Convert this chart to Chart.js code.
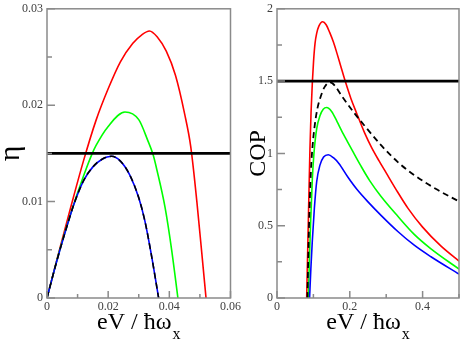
<!DOCTYPE html>
<html><head><meta charset="utf-8">
<script src="https://cdn.jsdelivr.net/npm/chart.js@4"></script>
<style>
html,body{margin:0;padding:0;background:#fff;}
#wrap{position:relative;width:463px;height:341px;overflow:hidden;background:#fff}
.box{position:absolute;top:0;height:341px}
#b1{left:0;width:245px}
#b2{left:235px;width:228px}
</style></head><body>
<div id="wrap"><div class="box" id="b1"><canvas id="c1"></canvas></div><div class="box" id="b2"><canvas id="c2"></canvas></div></div>
<script>
// ---------- Left panel (efficiency eta) ----------
const etaXRange = [0, 0.06];
const etaYRange = [0, 0.03];
const etaRef = 0.015;
const etaRedX = [0, 0.004, 0.008, 0.012, 0.016, 0.020, 0.024, 0.028, 0.031, 0.0335, 0.036, 0.039, 0.042, 0.045, 0.047, 0.049, 0.0506, 0.0520];
const etaRedY = [0, 0.0049, 0.0097, 0.0143, 0.0184, 0.0217, 0.0245, 0.0264, 0.0273, 0.0277, 0.0271, 0.0256, 0.0231, 0.0191, 0.0157, 0.0100, 0.0047, 0];
const etaGreenX = [0, 0.004, 0.008, 0.012, 0.0146, 0.016, 0.020, 0.0255, 0.030, 0.033, 0.0347, 0.036, 0.0386, 0.0408, 0.0428];
const etaGreenY = [0, 0.0048, 0.0090, 0.0127, 0.01485, 0.0158, 0.0178, 0.0193, 0.0185, 0.0163, 0.01485, 0.0132, 0.0094, 0.0049, 0];
const etaBlueX = [0, 0.003, 0.006, 0.009, 0.012, 0.015, 0.018, 0.0211, 0.024, 0.027, 0.030, 0.032, 0.034, 0.0365];
const etaBlueY = [0, 0.0036, 0.0069, 0.0099, 0.0122, 0.0136, 0.0144, 0.0147, 0.0142, 0.0128, 0.0104, 0.0080, 0.0047, 0];
const etaDashX = etaBlueX;
const etaDashY = etaBlueY;
const etaXTickLabels = ['0', '0.02', '0.04', '0.06'];
const etaYTickLabels = ['0', '0.01', '0.02', '0.03'];

// ---------- Right panel (COP) ----------
const copXRange = [0, 0.5];
const copYRange = [0, 2];
const copRef = 1.5;
const copRedX = [0.0815, 0.0865, 0.0905, 0.0935, 0.0972, 0.1005, 0.1045, 0.109, 0.115, 0.1255, 0.135, 0.145, 0.155, 0.165, 0.175, 0.188, 0.203, 0.218, 0.241, 0.26, 0.28, 0.30, 0.326, 0.36, 0.40, 0.45, 0.5];
const copRedY = [0, 0.58, 1.03, 1.28, 1.495, 1.64, 1.761, 1.83, 1.88, 1.91, 1.89, 1.835, 1.77, 1.69, 1.605, 1.495, 1.38, 1.283, 1.14, 1.04, 0.95, 0.865, 0.755, 0.62, 0.49, 0.36, 0.255];
const copGreenX = [0.086, 0.092, 0.097, 0.1015, 0.109, 0.118, 0.127, 0.1364, 0.15, 0.165, 0.177, 0.195, 0.209, 0.23, 0.255, 0.2865, 0.332, 0.377, 0.423, 0.5];
const copGreenY = [0, 0.5, 0.82, 1.0, 1.17, 1.26, 1.305, 1.317, 1.29, 1.22, 1.16, 1.075, 1.01, 0.915, 0.81, 0.70, 0.565, 0.44, 0.34, 0.2];
const copBlueX = [0.0895, 0.093, 0.097, 0.1027, 0.109, 0.118, 0.128, 0.1408, 0.155, 0.17, 0.195, 0.22, 0.25, 0.2865, 0.332, 0.377, 0.423, 0.5];
const copBlueY = [0, 0.2, 0.394, 0.622, 0.804, 0.919, 0.975, 0.991, 0.97, 0.93, 0.835, 0.75, 0.665, 0.57, 0.46, 0.365, 0.285, 0.165];
const copDashX = [0.0835, 0.088, 0.093, 0.098, 0.104, 0.111, 0.121, 0.131, 0.146, 0.16, 0.177, 0.2136, 0.241, 0.2865, 0.332, 0.377, 0.441, 0.5];
const copDashY = [0, 0.5, 0.87, 1.06, 1.2, 1.31, 1.40, 1.46, 1.492, 1.465, 1.40, 1.275, 1.19, 1.055, 0.94, 0.85, 0.748, 0.668];
const copXTickLabels = ['0', '0.2', '0.4'];
const copYTickLabels = ['0', '0.5', '1', '1.5', '2'];

const xTitleMain = 'eV / \u0127\u03c9';
const xTitleSub = 'x';

const SERIF = "'Liberation Serif','Times New Roman',serif";
const FRAME = '#8a8a8a';
const LABEL = '#404040';

function pts(xs, ys) { return xs.map((x, i) => ({x: x, y: ys[i]})); }
function isMult(v, step) { const r = v / step; return Math.abs(r - Math.round(r)) < 1e-6; }
function fmt(v) { return String(Math.round(v * 10000) / 10000); }

const framePlugin = {
  id: 'frameTicks',
  afterDraw(chart, args, o) {
    const ctx = chart.ctx, a = chart.chartArea;
    const xs = chart.scales.x, ys = chart.scales.y;
    ctx.save();
    ctx.strokeStyle = FRAME;
    ctx.lineWidth = 1.5;
    ctx.strokeRect(a.left, a.top, a.right - a.left, a.bottom - a.top);
    ctx.beginPath();
    xs.ticks.forEach(t => {
      const px = xs.getPixelForValue(t.value);
      const len = isMult(t.value, o.xMajor) ? 7 : 4;
      ctx.moveTo(px, a.bottom); ctx.lineTo(px, a.bottom - len);
    });
    ys.ticks.forEach(t => {
      const py = ys.getPixelForValue(t.value);
      const len = isMult(t.value, o.yMajor) ? 8 : 5;
      ctx.moveTo(a.left, py); ctx.lineTo(a.left + len, py);
    });
    ctx.stroke();
    // x-axis title with subscript
    const f1 = "24px " + SERIF, f2 = "16px " + SERIF;
    ctx.font = f1; const w1 = ctx.measureText(xTitleMain).width;
    ctx.font = f2; const w2 = ctx.measureText(xTitleSub).width;
    const cx = (a.left + a.right) / 2;
    const x0 = cx - (w1 + w2 + 1) / 2;
    ctx.fillStyle = '#000';
    ctx.textBaseline = 'alphabetic';
    ctx.textAlign = 'left';
    ctx.font = f1; ctx.fillText(xTitleMain, x0, 329);
    ctx.font = f2; ctx.fillText(xTitleSub, x0 + w1 + 1, 339);
    ctx.restore();
  }
};

function lineDs(xs, ys, color, width, dash, order) {
  return {
    data: pts(xs, ys), borderColor: color, borderWidth: width, borderDash: dash || [],
    pointRadius: 0, fill: false, tension: 0.4, cubicInterpolationMode: 'monotone', order: order
  };
}

function makeChart(id, cfg) {
  return new Chart(document.getElementById(id), {
    type: 'line',
    data: { datasets: cfg.datasets },
    options: {
      responsive: true, maintainAspectRatio: false, animation: false,
      layout: { padding: { top: cfg.padTop, right: cfg.padRight, left: 0, bottom: 0 } },
      plugins: { legend: { display: false }, tooltip: { enabled: false },
        frameTicks: { xMajor: cfg.xMajor, yMajor: cfg.yMajor } },
      scales: {
        x: {
          type: 'linear', min: cfg.xRange[0], max: cfg.xRange[1],
          grid: { display: false, drawTicks: false }, border: { display: false },
          afterFit: s => { s.height = 43; },
          ticks: { stepSize: cfg.xMinor, autoSkip: false, maxRotation: 0, padding: 4, color: LABEL,
            font: { family: SERIF, size: 12, lineHeight: 0.8 },
            callback: v => { const s = fmt(v); return cfg.xLabels.includes(s) ? s : ''; } }
        },
        y: {
          type: 'linear', min: cfg.yRange[0], max: cfg.yRange[1],
          grid: { display: false, drawTicks: false }, border: { display: false },
          afterFit: s => { s.width = cfg.yWidth; },
          ticks: { stepSize: cfg.yMinor, autoSkip: false, padding: 4, color: LABEL,
            font: { family: SERIF, size: 12, lineHeight: 0.8 },
            callback: v => { const s = fmt(v); return cfg.yLabels.includes(s) ? s : ''; } },
          title: { display: true, text: cfg.yTitle, color: '#000', padding: { top: cfg.titlePad, bottom: 0 },
            font: { family: SERIF, size: cfg.yTitleSize, lineHeight: cfg.yTitleLH } }
        }
      }
    },
    plugins: [framePlugin]
  });
}

makeChart('c1', {
  xRange: etaXRange, yRange: etaYRange, xMinor: 0.01, yMinor: 0.005, xMajor: 0.02, yMajor: 0.01,
  xLabels: etaXTickLabels, yLabels: etaYTickLabels, yTitle: '\u03b7', yTitleSize: 30, yTitleLH: 0.75, titlePad: 0,
  yWidth: 47, padTop: 6, padRight: 14,
  datasets: [
    lineDs(etaXRange, [etaRef, etaRef], '#000', 2.7, null, 0),
    lineDs(etaDashX, etaDashY, '#000', 1.6, [6, 4], 1),
    lineDs(etaBlueX, etaBlueY, '#0000ff', 1.6, null, 2),
    lineDs(etaGreenX, etaGreenY, '#00ff00', 1.6, null, 3),
    lineDs(etaRedX, etaRedY, '#ff0000', 1.6, null, 4)
  ]
});

makeChart('c2', {
  xRange: copXRange, yRange: copYRange, xMinor: 0.1, yMinor: 0.25, xMajor: 0.2, yMajor: 0.5,
  xLabels: copXTickLabels, yLabels: copYTickLabels, yTitle: 'COP', yTitleSize: 24, yTitleLH: 1.2, titlePad: 9,
  yWidth: 42, padTop: 5, padRight: 1,
  datasets: [
    lineDs(copXRange, [copRef, copRef], '#000', 2.7, null, 0),
    lineDs(copDashX, copDashY, '#000', 1.8, [6, 4], 1),
    lineDs(copBlueX, copBlueY, '#0000ff', 1.6, null, 2),
    lineDs(copGreenX, copGreenY, '#00ff00', 1.6, null, 3),
    lineDs(copRedX, copRedY, '#ff0000', 1.6, null, 4)
  ]
});
</script>
</body></html>
